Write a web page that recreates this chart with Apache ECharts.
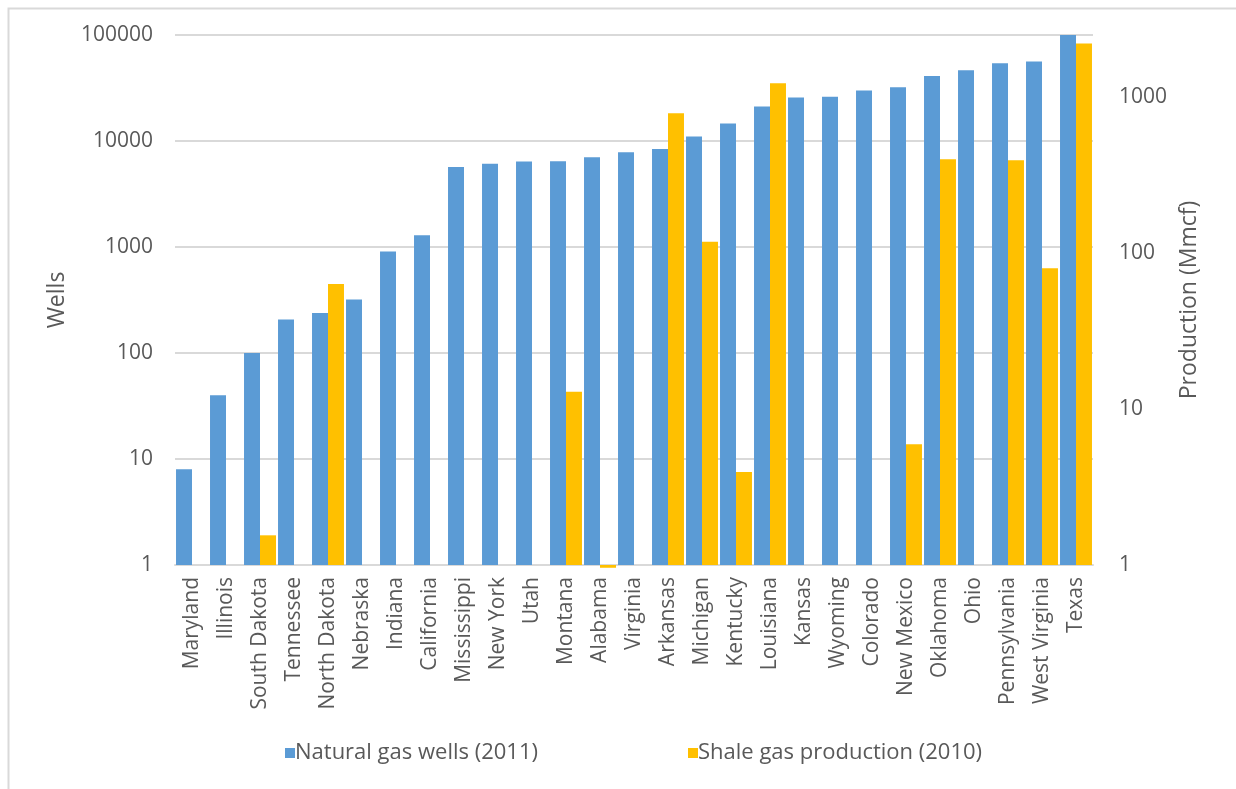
<!DOCTYPE html>
<html>
<head>
<meta charset="utf-8">
<script src="https://cdn.jsdelivr.net/npm/echarts@6/dist/echarts.min.js"></script>
<style>
html,body{margin:0;padding:0;background:#fff;}
#chart{width:1236px;height:789px;}
</style>
</head>
<body>
<div id="chart"></div>
<script>
const states = ['Maryland','Illinois','South Dakota','Tennessee','North Dakota','Nebraska','Indiana','California','Mississippi','New York','Utah','Montana','Alabama','Virginia','Arkansas','Michigan','Kentucky','Louisiana','Kansas','Wyoming','Colorado','New Mexico','Oklahoma','Ohio','Pennsylvania','West Virginia','Texas'];
const wells2011 = [8,40,100,207,238,320,906,1294,5700,6110,6400,6450,7030,7840,8410,11030,14590,21180,25700,26100,30000,32200,40950,46400,54200,56300,100000];
const shale2010 = [null,null,1.55,null,63.4,null,null,null,null,null,null,12.9,0.96,null,788,118,3.94,1227,null,null,null,5.94,399,null,393,80,2204];
const leftTicks = [1,10,100,1000,10000,100000];
const rightTicks = [1,10,100,1000];

const FONT = 'Open Sans';
const TXT = '#595959';
const chart = echarts.init(document.getElementById('chart'), null, {renderer:'canvas'});
chart.setOption({
  animation:false,
  backgroundColor:'#fff',
  graphic:[{type:'rect',left:6,top:6,shape:{width:1240,height:790},style:{fill:'none',stroke:'#d9d9d9',lineWidth:2},silent:true}],
  grid:{left:175,right:143,top:35,bottom:224,containLabel:false},
  legend:{
    bottom:20,left:280,itemGap:150,itemWidth:10,itemHeight:10,icon:'rect',
    textStyle:{fontFamily:FONT,fontSize:22,color:TXT,padding:[0,0,0,-5]},
    data:['Natural gas wells (2011)','Shale gas production (2010)']
  },
  xAxis:{
    type:'category',data:states,
    axisTick:{show:false},
    axisLine:{lineStyle:{color:'#d9d9d9',width:2}},
    axisLabel:{rotate:90,interval:0,margin:12,fontFamily:FONT,fontSize:21,color:TXT}
  },
  yAxis:[{
    type:'log',logBase:10,min:1,max:100000,
    name:'Wells',nameLocation:'middle',nameGap:106,nameRotate:90,
    nameTextStyle:{fontFamily:FONT,fontSize:23,color:TXT},
    axisLine:{show:false},axisTick:{show:false},
    splitLine:{lineStyle:{color:'#d9d9d9',width:2}},
    axisLabel:{margin:22,fontFamily:FONT,fontSize:21,color:TXT,
      formatter:v=>leftTicks.includes(Math.round(v))?String(Math.round(v)):''}
  },{
    type:'log',logBase:10,min:1,max:2500,
    name:'Production (Mmcf)',nameLocation:'middle',nameGap:80,nameRotate:90,
    nameTextStyle:{fontFamily:FONT,fontSize:23,color:TXT},
    axisLine:{show:false},axisTick:{show:false},splitLine:{show:false},
    axisLabel:{margin:26,fontFamily:FONT,fontSize:21,color:TXT,showMaxLabel:false,
      formatter:v=>rightTicks.includes(Math.round(v))?String(Math.round(v)):''}
  }],
  series:[{
    name:'Natural gas wells (2011)',type:'bar',yAxisIndex:0,data:wells2011,
    itemStyle:{color:'#5b9bd5'},barGap:'0%',barCategoryGap:'6%'
  },{
    name:'Shale gas production (2010)',type:'bar',yAxisIndex:1,data:shale2010,
    itemStyle:{color:'#ffc000'},barGap:'0%',barCategoryGap:'6%',clip:false
  }]
});
</script>
</body>
</html>
